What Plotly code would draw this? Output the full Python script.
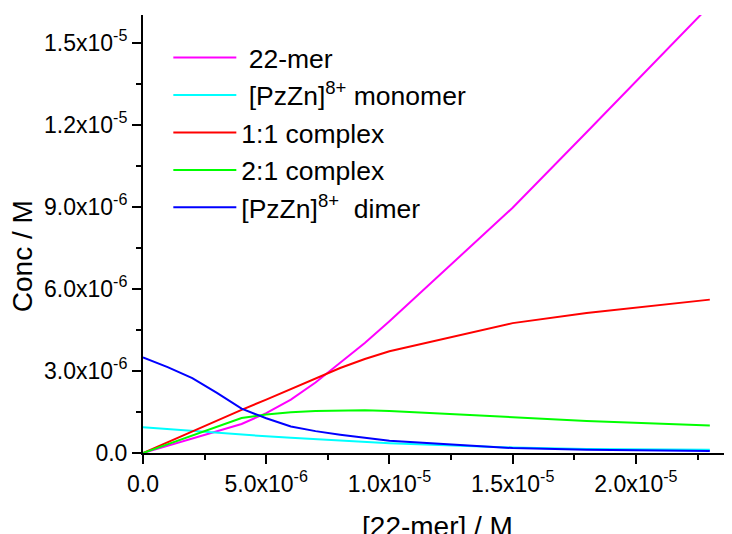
import plotly.graph_objects as go

# ---- data (concentrations in M) ----
x_conc = [0, 1e-6, 2e-6, 3e-6, 4e-6, 5e-6, 6e-6, 7e-6, 8e-6, 9e-6, 1.0e-5, 1.5e-5, 1.8e-5, 2.3e-5]
mer22 = [0, 0.27e-6, 0.53e-6, 0.79e-6, 1.06e-6, 1.46e-6, 1.95e-6, 2.58e-6, 3.29e-6, 4.02e-6, 4.82e-6, 8.97e-6, 11.73e-6, 16.37e-6]
monomer = [0.94e-6, 0.87e-6, 0.80e-6, 0.73e-6, 0.67e-6, 0.61e-6, 0.56e-6, 0.51e-6, 0.46e-6, 0.41e-6, 0.36e-6, 0.20e-6, 0.15e-6, 0.12e-6]
complex11 = [0, 0.40e-6, 0.79e-6, 1.19e-6, 1.58e-6, 1.95e-6, 2.34e-6, 2.72e-6, 3.11e-6, 3.44e-6, 3.72e-6, 4.75e-6, 5.12e-6, 5.61e-6]
complex21 = [0, 0.32e-6, 0.64e-6, 0.96e-6, 1.28e-6, 1.41e-6, 1.49e-6, 1.54e-6, 1.56e-6, 1.56e-6, 1.54e-6, 1.32e-6, 1.17e-6, 1.01e-6]
dimer = [3.50e-6, 3.14e-6, 2.74e-6, 2.20e-6, 1.62e-6, 1.27e-6, 0.97e-6, 0.80e-6, 0.67e-6, 0.55e-6, 0.45e-6, 0.18e-6, 0.12e-6, 0.07e-6]

series_names = ["\u00a022-mer", "\u00a0[PzZn]<sup>8+</sup> monomer", "1:1 complex", "2:1 complex", "[PzZn]<sup>8+</sup>\u00a0 dimer"]
series_values = [mer22, monomer, complex11, complex21, dimer]
series_colors = ["#FF00FF", "#00FFFF", "#FF0000", "#00FF00", "#0000FF"]

x_tickvals = [0, 5e-6, 1e-5, 1.5e-5, 2e-5]
x_ticktext = ["0.0", "5.0x10<sup>-6</sup>", "1.0x10<sup>-5</sup>", "1.5x10<sup>-5</sup>", "2.0x10<sup>-5</sup>"]
y_tickvals = [0, 3e-6, 6e-6, 9e-6, 1.2e-5, 1.5e-5]
y_ticktext = ["0.0", "3.0x10<sup>-6</sup>", "6.0x10<sup>-6</sup>", "9.0x10<sup>-6</sup>", "1.2x10<sup>-5</sup>", "1.5x10<sup>-5</sup>"]

FONT = "Liberation Sans, Arial, sans-serif"

fig = go.Figure()
for i, (name, vals, col) in enumerate(zip(series_names, series_values, series_colors)):
    fig.add_trace(go.Scatter(
        x=x_conc, y=vals, mode="lines", name=name,
        line=dict(color=col, width=2), legendgroup=f"g{i}",
    ))

axis_common = dict(
    showline=True, linecolor="black", linewidth=2,
    ticks="outside", ticklen=9, tickwidth=2, tickcolor="black",
    showgrid=False, zeroline=False, automargin=False,
    tickfont=dict(family=FONT, size=23, color="black"),
    tickmode="array",
)

# the page body has an 8px default margin, so margins compensate for it
fig.update_layout(
    width=732, height=534,
    margin=dict(l=135, r=8, t=7, b=89, autoexpand=False),
    paper_bgcolor="white", plot_bgcolor="white",
    font=dict(family=FONT, color="black"),
    xaxis=dict(
        **axis_common,
        range=[0, 2.39e-5],
        tickvals=x_tickvals, ticktext=x_ticktext,
        minor=dict(tickmode="linear", tick0=0, dtick=2.5e-6, ticklen=5, tickwidth=2, tickcolor="black", ticks="outside"),
        title=dict(text="[22-mer] / M", font=dict(family=FONT, size=28, color="black"), standoff=22),
    ),
    yaxis=dict(
        **axis_common,
        range=[0, 1.602e-5],
        tickvals=y_tickvals, ticktext=y_ticktext,
        minor=dict(tickmode="linear", tick0=0, dtick=1.5e-6, ticklen=5, tickwidth=2, tickcolor="black", ticks="outside"),
    ),
    annotations=[dict(
        text="Conc / M", textangle=-90, xref="paper", yref="paper",
        x=-0.2032, y=0.45, xanchor="center", yanchor="middle", showarrow=False,
        font=dict(family=FONT, size=28, color="black"),
    )],
    legend=dict(
        x=0.043, y=0.957, xanchor="left", yanchor="top",
        font=dict(family=FONT, size=26.5, color="black"),
        bgcolor="rgba(0,0,0,0)", borderwidth=0,
        tracegroupgap=0, traceorder="grouped", itemwidth=63,
    ),
)

fig.write_html("out.html")
